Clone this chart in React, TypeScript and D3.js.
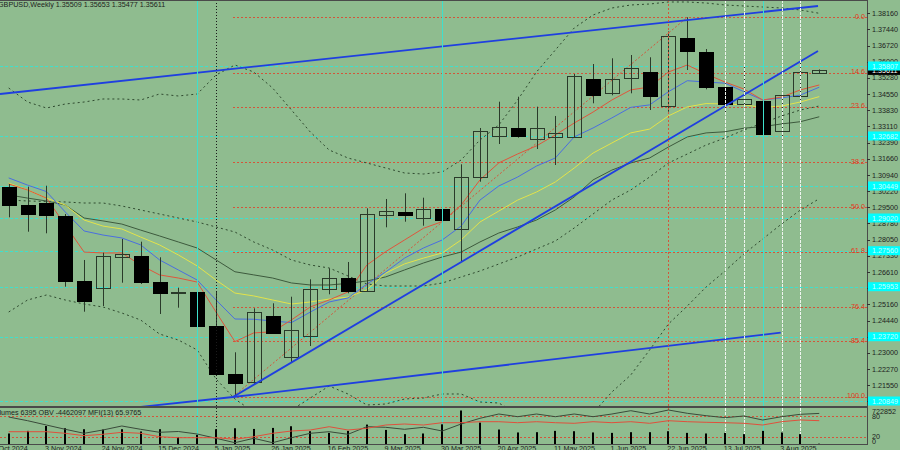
import React from "react";
import * as d3 from "d3";

const headerText = "GBPUSD,Weekly  1.35509 1.35653 1.35477 1.35611";
const indText = "Volumes 6395  OBV -4462097  MFI(13) 65.9765";

const dateLabels = ["13 Oct 2024","3 Nov 2024","24 Nov 2024","15 Dec 2024","5 Jan 2025","26 Jan 2025","16 Feb 2025","9 Mar 2025","30 Mar 2025","20 Apr 2025","11 May 2025","1 Jun 2025","22 Jun 2025","13 Jul 2025","3 Aug 2025"];
const dateIdx = [-1,2,5,8,11,14,17,20,23,26,29,32,35,38,41];

const opens = [1.30418,1.29601,1.29677,1.2911,1.26207,1.25881,1.27266,1.27324,1.26149,1.25658,1.2573,1.24211,1.22042,1.21711,1.24658,1.22827,1.23738,1.25837,1.26328,1.25774,1.29168,1.29275,1.29034,1.29422,1.28529,1.30864,1.32695,1.33052,1.32548,1.3265,1.3265,1.35213,1.34588,1.35285,1.35526,1.34021,1.37044,1.36446,1.34856,1.3411,1.34258,1.32905,1.34481,1.35509];
const highs = [1.30538,1.30418,1.30462,1.29199,1.27145,1.27471,1.28083,1.27962,1.27266,1.25908,1.26029,1.2576,1.23024,1.24988,1.25212,1.25506,1.26283,1.26774,1.27056,1.29453,1.29869,1.30123,1.29927,1.32056,1.31418,1.33039,1.34213,1.34436,1.3399,1.33575,1.3545,1.35896,1.36151,1.36298,1.36196,1.3735,1.37981,1.36566,1.35035,1.35852,1.34512,1.34588,1.35954,1.35653];
const lows = [1.29052,1.28409,1.28337,1.25953,1.24837,1.25091,1.26131,1.26073,1.24734,1.25015,1.23528,1.21966,1.21041,1.21564,1.23841,1.22559,1.23305,1.25613,1.25658,1.25716,1.28605,1.28855,1.28676,1.28529,1.27069,1.30641,1.32324,1.32606,1.32101,1.31387,1.32592,1.34142,1.34499,1.34588,1.33842,1.33767,1.35628,1.34767,1.33651,1.33963,1.31387,1.32534,1.33963,1.35477];
const closes = [1.29601,1.29185,1.29154,1.26207,1.25301,1.27337,1.27399,1.26163,1.25658,1.25716,1.24211,1.22055,1.21666,1.2481,1.23899,1.24006,1.25837,1.26328,1.25761,1.29199,1.29333,1.29154,1.29409,1.28931,1.30838,1.32905,1.3307,1.32682,1.33025,1.32829,1.35374,1.34512,1.35227,1.35704,1.34468,1.3716,1.3649,1.34856,1.34097,1.34334,1.32771,1.34499,1.35526,1.35611];

const maRed = [1.3054,1.3027,1.2991,1.2871,1.275,1.2746,1.2746,1.2692,1.2648,1.2634,1.2616,1.2482,1.235,1.2389,1.2394,1.2447,1.2505,1.2536,1.2572,1.2692,1.2752,1.2804,1.2856,1.2886,1.296,1.3072,1.3148,1.3188,1.3224,1.3273,1.3326,1.3375,1.3429,1.3474,1.3487,1.3554,1.3585,1.3545,1.3509,1.3478,1.3429,1.3442,1.3474,1.3496];
const maBlue = [1.3081,1.3049,1.302,1.2929,1.2844,1.2826,1.2813,1.2782,1.2715,1.267,1.2625,1.2536,1.2451,1.245,1.2442,1.2435,1.2482,1.2527,1.2545,1.2607,1.2661,1.2723,1.2768,1.2804,1.2866,1.2982,1.3045,1.3085,1.3134,1.317,1.3264,1.3304,1.3349,1.3396,1.3407,1.3466,1.3515,1.3509,1.3504,1.3466,1.3429,1.3438,1.3451,1.3486];
const maYellow = [1.3058,1.3027,1.2991,1.296,1.2893,1.2866,1.2853,1.2817,1.2782,1.2737,1.2688,1.2625,1.2567,1.2554,1.2536,1.2518,1.2527,1.254,1.2549,1.2581,1.2656,1.2697,1.2723,1.2746,1.2804,1.2884,1.2933,1.2982,1.3018,1.3063,1.3125,1.3192,1.3237,1.3282,1.3299,1.3358,1.3398,1.3413,1.3411,1.3407,1.3396,1.3402,1.342,1.3444];
const maGreen = [1.3005,1.2991,1.2978,1.296,1.2902,1.2889,1.2875,1.2848,1.2822,1.2795,1.2768,1.2715,1.2662,1.2648,1.2634,1.2612,1.2603,1.2603,1.261,1.2621,1.2639,1.267,1.2701,1.2728,1.275,1.2795,1.2835,1.2862,1.2893,1.2938,1.2996,1.3072,1.3116,1.3148,1.317,1.3219,1.3264,1.3282,1.3287,1.3303,1.331,1.3322,1.3332,1.3354];

const bandUp = [1.34825,1.34199,1.33932,1.3411,1.34199,1.34334,1.34334,1.34289,1.34557,1.34468,1.34557,1.35405,1.35852,1.35539,1.34825,1.33843,1.3286,1.32056,1.31699,1.31476,1.31253,1.3103,1.30985,1.31074,1.3161,1.32503,1.33173,1.34289,1.35539,1.36522,1.37504,1.38084,1.38397,1.38531,1.38575,1.38665,1.38665,1.3862,1.38531,1.38486,1.38441,1.38397,1.38308,1.3816];
const bandMid = [1.29824,1.2978,1.29757,1.29735,1.2969,1.2969,1.29556,1.29378,1.29199,1.2902,1.28842,1.28619,1.28395,1.27949,1.27592,1.27145,1.26922,1.26788,1.26431,1.26073,1.25984,1.25984,1.25984,1.26118,1.26386,1.26654,1.26966,1.27279,1.27636,1.27993,1.28574,1.29199,1.29824,1.30271,1.30851,1.31476,1.31878,1.3228,1.32592,1.32949,1.33262,1.33575,1.33842,1.34021];
const bandLow = [1.24823,1.25359,1.25582,1.25359,1.2518,1.25047,1.24779,1.24466,1.23841,1.23573,1.23127,1.21832,1.20939,1.20358,1.20358,1.20448,1.20983,1.21519,1.21162,1.20671,1.20715,1.20939,1.20983,1.21162,1.21162,1.20805,1.2076,1.20269,1.19733,1.19465,1.19644,1.20314,1.21251,1.2201,1.23127,1.24288,1.25091,1.2594,1.26654,1.27413,1.28083,1.28752,1.29378,1.29882];

const volumes = [227000,283000,389000,340000,319000,312000,319000,270000,319000,149000,198000,319000,340000,325000,347000,383000,276000,240000,283000,419000,304000,213000,227000,425000,722852,461000,312000,249000,255000,283000,276000,249000,240000,255000,255000,276000,240000,227000,240000,213000,283000,249000,213000,6395];
const obv = [-5.053,-5.662,-6.371,-7.079,-7.738,-7.194,-6.535,-7.079,-7.573,-7.441,-7.853,-8.561,-9.286,-8.561,-9.286,-8.462,-7.738,-7.474,-7.902,-6.651,-6.749,-7.079,-6.749,-7.359,-6.206,-5.267,-4.559,-5.003,-4.559,-5.003,-4.559,-5.003,-4.559,-4.015,-4.559,-3.9,-4.444,-4.839,-5.168,-4.888,-5.547,-5.003,-4.608,-4.462];
const mfi = [34.9,34.9,34.9,30.4,23.7,27.6,33.2,30.4,20.8,18,18,18,13.5,20.8,30.4,36.9,39.7,49,39.7,44.5,53.8,56.6,53.8,60.3,60.3,63.1,63.1,60.3,63.1,60.3,58.6,63.1,60.3,63.1,58.6,65.9,63.1,61.4,60.3,58.6,53.8,63.1,67.9,65.98];

const priceTicks = [1.3816,1.3744,1.3672,1.36,1.3528,1.3455,1.3383,1.3311,1.3239,1.3166,1.3094,1.3022,1.295,1.2878,1.2805,1.2733,1.2661,1.2589,1.2516,1.2444,1.2372,1.23,1.2227,1.2155,1.2083];

const fibHigh = 1.37981;
const fibLow = 1.21041;
const fibStartIdx = 11.9;
const fibEndIdx = 36;
const fibLevels = [0, 14.6, 23.6, 38.2, 50.0, 61.8, 76.4, 85.4, 100.0];

const cyanLevels = [1.35807,1.32682,1.30449,1.2902,1.2756,1.25953,1.2372,1.20849];
const cyanVerts = [10, 23, 40];
const whiteVerts = [38, 39, 41, 42];
const redVerts = [35];
const sepVerts = [11];

// trend lines: [idx1, price1, idx2, price2]
const trendLines = [
  [-0.4615, 1.34557, 42.934, 1.38486],
  [-0.4615, 1.19912, 11.9, 1.21028],
  [11.9, 1.21028, 42.934, 1.36477],
  [11.9, 1.21028, 40.955, 1.23899],
];

const lastPrice = 1.35611;

export default function App() {
  const PR = 867;
  const MB = 406;
  const IT = 408;
  const IB = 444;
  const x = d3.scaleLinear().domain([0, 43]).range([8.7, 8.7 + 18.85 * 43]);
  const y = d3.scaleLinear().domain([1.38754, 1.20626]).range([0, 406]);
  const yVol = d3.scaleLinear().domain([0, 722852]).range([IB, 410.5]);
  const yMfi = d3.scaleLinear().domain([0, 100]).range([444.1, 408.6]);
  const yObv = d3.scaleLinear().domain([-9.5, -3.9]).range([444, 410]);

  const line = (arr: number[]) =>
    d3.line<number>().x((_, i) => x(i)).y((d) => y(d))(arr) || "";
  const lineInd = (arr: number[], sc: d3.ScaleLinear<number, number>) =>
    d3.line<number>().x((_, i) => x(i)).y((d) => sc(d))(arr) || "";

  const font = "'Liberation Sans', Arial, sans-serif";
  const fs = 7.2;
  const textCol = "#1c1c1c";
  const fibCol = "#d4553a";
  const bandCol = "#2f4a2f";

  return (
    <div style={{ position: "fixed", left: 0, top: 0, width: 900, height: 450 }}>
      <svg width={900} height={450} style={{ display: "block" }} fontFamily={font}>
        <defs>
          <clipPath id="mainClip"><rect x={0} y={0} width={PR} height={MB} /></clipPath>
          <clipPath id="indClip"><rect x={0} y={IT} width={PR} height={IB - IT} /></clipPath>
        </defs>
        <rect x={0} y={0} width={900} height={450} fill="#8FBC8F" />

        <g clipPath="url(#mainClip)">
          {cyanLevels.map((p, i) => (
            <line key={"ch" + i} x1={0} x2={PR} y1={Math.round(y(p)) + 0.5} y2={Math.round(y(p)) + 0.5} stroke="#3fe0cc" strokeWidth={1} strokeDasharray="3,2" />
          ))}
          {fibLevels.map((lv, i) => {
            const p = fibHigh - (fibHigh - fibLow) * lv / 100;
            const yy = Math.round(y(p)) + 0.5;
            return (
              <line key={"fb" + i} x1={x(fibStartIdx)} x2={PR} y1={yy} y2={yy} stroke={fibCol} strokeWidth={1} strokeDasharray="2,2" />
            );
          })}
          <line x1={x(fibStartIdx)} y1={y(fibLow)} x2={x(fibEndIdx)} y2={y(fibHigh)} stroke={fibCol} strokeWidth={1} strokeDasharray="2,2" />
          <path d={line(bandUp)} fill="none" stroke={bandCol} strokeWidth={1} strokeDasharray="2,3" />
          <path d={line(bandMid)} fill="none" stroke={bandCol} strokeWidth={1} strokeDasharray="2,3" />
          <path d={line(bandLow)} fill="none" stroke={bandCol} strokeWidth={1} strokeDasharray="2,3" />
          <path d={line(maGreen)} fill="none" stroke="#3d5a3d" strokeWidth={1} />
          <path d={line(maYellow)} fill="none" stroke="#e3e34a" strokeWidth={1} />
          <path d={line(maBlue)} fill="none" stroke="#4a6ee0" strokeWidth={1} />
          <path d={line(maRed)} fill="none" stroke="#e0553c" strokeWidth={1} />
          {opens.map((o, i) => {
            const c = closes[i];
            const cx = Math.round(x(i)) + 0.5;
            const top = Math.round(y(Math.max(o, c)));
            const bot = Math.round(y(Math.min(o, c)));
            const bull = c >= o;
            return (
              <g key={"c" + i}>
                <line x1={cx} x2={cx} y1={y(highs[i])} y2={y(lows[i])} stroke="#2a3a2a" strokeWidth={1} />
                <rect x={cx - 7} y={top + 0.5} width={14} height={Math.max(1, bot - top)} fill={bull ? "none" : "#000"} stroke={bull ? "#2a3a2a" : "#000"} strokeWidth={1} />
              </g>
            );
          })}
          {trendLines.map((t, i) => (
            <line key={"tl" + i} x1={x(t[0])} y1={y(t[1])} x2={x(t[2])} y2={y(t[3])} stroke="#1f3fe0" strokeWidth={1.8} />
          ))}
          {fibLevels.map((lv, i) => {
            const p = fibHigh - (fibHigh - fibLow) * lv / 100;
            return (
              <text key={"fl" + i} x={865} y={y(p) + 1.5} fontSize={fs} fill="#e03a22" textAnchor="end">{lv.toFixed(1)}</text>
            );
          })}
        </g>

        {cyanVerts.map((i) => (
          <line key={"cv" + i} x1={Math.round(x(i)) + 0.5} x2={Math.round(x(i)) + 0.5} y1={0} y2={IB} stroke="#3fe0cc" strokeWidth={1} />
        ))}
        {whiteVerts.map((i) => (
          <line key={"wv" + i} x1={Math.round(x(i)) + 0.5} x2={Math.round(x(i)) + 0.5} y1={0} y2={IB} stroke="#eef4ee" strokeWidth={1} strokeDasharray="3,1" />
        ))}
        {redVerts.map((i) => (
          <line key={"rv" + i} x1={Math.round(x(i)) + 0.5} x2={Math.round(x(i)) + 0.5} y1={0} y2={IB} stroke={fibCol} strokeWidth={1} strokeDasharray="2,2" />
        ))}
        {sepVerts.map((i) => (
          <line key={"sv" + i} x1={Math.round(x(i)) + 0.5} x2={Math.round(x(i)) + 0.5} y1={0} y2={IB} stroke="#1a1a1a" strokeWidth={1} strokeDasharray="1,2" />
        ))}

        <g clipPath="url(#indClip)">
          {[80, 20].map((lv) => (
            <line key={"ml" + lv} x1={0} x2={PR} y1={Math.round(yMfi(lv)) + 0.5} y2={Math.round(yMfi(lv)) + 0.5} stroke={fibCol} strokeDasharray="2,2" />
          ))}
          {volumes.map((v, i) => (
            <rect key={"v" + i} x={Math.round(x(i)) - 1} y={yVol(v)} width={2} height={IB - yVol(v)} fill="#000" />
          ))}
          <path d={lineInd(obv, yObv)} fill="none" stroke="#3a4a3a" strokeWidth={1} />
          <path d={lineInd(mfi, yMfi)} fill="none" stroke="#e0503c" strokeWidth={1} />
        </g>
        <text x={-9} y={414.5} fontSize={fs} fill={textCol}>{indText}</text>

        <line x1={0} x2={PR} y1={0.5} y2={0.5} stroke="#4a4a4a" />
        <rect x={0} y={406} width={PR} height={2} fill="#4a4a4a" />
        <line x1={0} x2={PR} y1={IB + 0.5} y2={IB + 0.5} stroke="#4a4a4a" />
        <line x1={PR + 0.5} x2={PR + 0.5} y1={0} y2={IB + 1} stroke="#4a4a4a" />

        {priceTicks.map((p, i) => (
          <g key={"pt" + i}>
            <line x1={PR} x2={PR + 3} y1={Math.round(y(p)) + 0.5} y2={Math.round(y(p)) + 0.5} stroke="#333" />
            <text x={872} y={y(p) + 2.6} fontSize={fs} fill={textCol}>{p.toFixed(5)}</text>
          </g>
        ))}
        <rect x={868} y={y(lastPrice) - 4.5} width={32} height={9} fill="#000" />
        <text x={872} y={y(lastPrice) + 2.6} fontSize={fs} fill="#fff">{lastPrice.toFixed(5)}</text>
        {cyanLevels.map((p, i) => (
          <g key={"cb" + i}>
            <rect x={868} y={y(p) - 4.5} width={32} height={9} fill="#00ffff" />
            <text x={872} y={y(p) + 2.6} fontSize={fs} fill="#c8ffff">{p.toFixed(5)}</text>
          </g>
        ))}
        <text x={872} y={414} fontSize={fs} fill={textCol}>722852</text>
        <text x={872} y={419} fontSize={fs} fill={textCol}>80</text>
        <text x={872} y={439} fontSize={fs} fill={textCol}>20</text>
        <text x={872} y={444} fontSize={fs} fill={textCol}>0</text>

        <text x={-2} y={7} fontSize={fs} fill={textCol}>{headerText}</text>

        {dateLabels.map((s, i) => (
          <text key={"d" + i} x={x(dateIdx[i]) - 1.3} y={450.5} fontSize={fs} fill={textCol}>{s}</text>
        ))}
      </svg>
    </div>
  );
}
